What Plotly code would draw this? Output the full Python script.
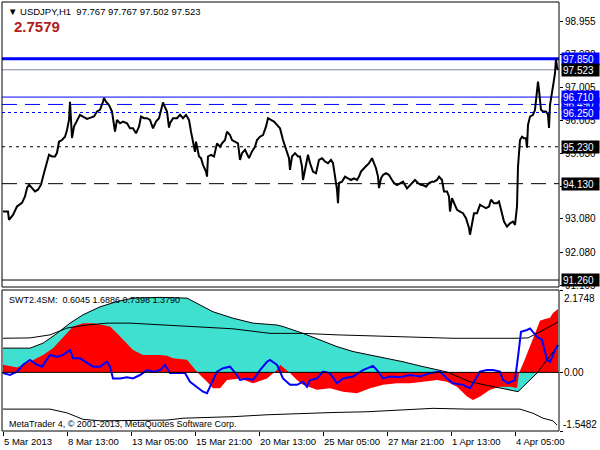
import plotly.graph_objects as go

# ---------------- data ----------------
header_text = "USDJPY,H1\u00a0\u00a097.767 97.767 97.502 97.523"
big_value_text = "2.7579"
indicator_text = "SWT2.4SM:\u00a0\u00a00.6045 1.6886 0.7398 1.3790"
copyright_text = "MetaTrader 4, \u00a9 2001-2013, MetaQuotes Software Corp."

price_bar = [0, 5, 6, 10, 14, 19, 22, 24, 26, 29, 32, 35, 38, 41, 44, 46, 49, 52, 54, 56, 59, 62, 64, 66, 67, 68, 69, 71, 74, 77,
             80, 84, 87, 91, 94, 97, 100, 101, 103, 106, 109, 111, 112, 114, 117, 120, 124, 127, 130, 133, 136, 138, 141, 144, 147,
             150, 153, 156, 159, 160, 161, 164, 166, 167, 170, 174, 177, 180, 183, 186, 188, 190, 191, 192, 193, 196, 198, 200, 203,
             204, 205, 208, 211, 214, 217, 219, 222, 224, 227, 229, 232, 235, 237, 239, 242, 244, 246, 249, 252, 254, 257, 260, 263,
             265, 268, 271, 274, 277, 280, 282, 284, 286, 287, 289, 292, 295, 297, 299, 300, 302, 305, 307, 310, 313, 316, 319, 322,
             325, 328, 330, 332, 334, 335, 336, 339, 342, 345, 348, 351, 354, 356, 358, 361, 363, 366, 369, 371, 373, 375, 376, 378,
             380, 383, 386, 389, 391, 394, 397, 400, 404, 407, 410, 412, 415, 418, 420, 423, 426, 429, 431, 434, 436, 439, 441, 444,
             446, 447, 449, 451, 454, 457, 460, 463, 466, 467, 469, 471, 474, 477, 480, 483, 486, 488, 491, 494, 496, 499, 501, 504,
             507, 510, 512, 514, 515, 517, 519, 521, 523, 524, 525, 527, 530, 532, 534, 535, 536, 538, 540, 543, 545, 546, 547, 549,
             551, 552, 553, 554, 555]
price_close = [93.30, 93.30, 93.05, 93.20, 93.45, 93.56, 93.75, 94.00, 94.10, 94.00, 93.90, 93.95, 94.10, 94.45, 94.75, 94.99, 94.94,
               94.94, 95.05, 95.38, 95.43, 95.53, 95.73, 96.03, 96.57, 96.13, 95.49, 95.83, 96.03, 96.18,
               96.13, 96.06, 96.09, 96.13, 96.28, 96.33, 96.57, 96.68, 96.57, 96.47, 96.28, 95.93, 95.68, 96.03, 95.93, 95.98, 95.93,
               95.78, 95.78, 95.63, 95.83, 96.13, 96.08, 96.08, 96.03,
               95.78, 95.98, 96.08, 96.42, 96.55, 96.47, 96.28, 95.80, 95.93, 96.08, 96.08, 96.18, 96.08, 96.18, 96.03, 95.68, 95.43,
               95.23, 95.08, 95.38, 94.94, 94.89, 94.69, 94.49,
               94.34, 94.94, 94.99, 94.94, 95.33, 95.23, 95.33, 95.43, 95.68, 95.58, 95.43, 95.38, 95.33, 94.84, 95.04, 95.14, 94.99,
               94.89, 95.09, 95.23, 95.43, 95.53, 95.58, 95.83,
               96.08, 96.03, 95.98, 95.88, 95.78, 95.43, 95.23, 95.08, 94.89, 94.54, 94.94, 95.04, 94.94, 94.94, 94.64, 94.24, 94.54,
               94.99, 94.74, 94.49, 94.44, 94.84, 94.89,
               94.79, 94.74, 94.84, 94.74, 94.34, 93.95, 93.55, 94.15, 94.19, 94.34, 94.29, 94.24, 94.29, 94.24, 94.34, 94.49, 94.59,
               94.64, 94.74, 94.89, 94.74, 94.59, 94.34, 94.00, 94.29,
               94.39, 94.44, 94.39, 94.24, 94.15, 94.09, 94.15, 94.19, 93.99, 94.09, 94.19, 94.24, 94.15, 94.09, 94.09, 94.04, 94.15,
               94.19, 94.19, 94.24, 94.34, 94.24, 93.90, 93.90,
               93.75, 93.30, 93.70, 93.55, 93.35, 93.30, 93.25, 93.10, 92.81, 92.61, 92.95, 93.25, 93.25, 93.50, 93.45, 93.40, 93.45,
               93.65, 93.55, 93.55, 93.60, 93.25, 93.00, 92.85,
               92.95, 93.00, 92.90, 93.45, 94.64, 95.43, 95.53, 95.48, 95.48, 95.20, 95.88, 96.13, 96.18, 96.33, 96.82, 97.17, 96.92,
               96.33, 96.28, 96.28, 96.18, 95.79, 96.47, 96.92,
               97.22, 97.42, 97.85, 97.60, 97.52]

level_prices = [96.490, 97.850, 97.523, 96.710, 96.250, 95.230, 94.130, 91.260]
price_ticks = [98.955, 97.980, 97.005, 96.005, 95.030, 94.055, 93.080, 92.080, 91.105]

time_label_bars = [0, 64, 128, 192, 256, 320, 384, 448, 512]
time_labels = ["5 Mar 2013", "8 Mar 13:00", "13 Mar 05:00", "15 Mar 21:00", "20 Mar 13:00",
               "25 Mar 05:00", "27 Mar 21:00", "1 Apr 13:00", "4 Apr 05:00"]

ind_max, ind_min = 2.1748, -1.5482

cyan_bar = [0, 27, 40, 54, 67, 80, 97, 114, 130, 157, 184, 197, 210, 230, 250, 274, 280, 300, 317, 334, 350, 367, 384, 400,
            417, 434, 444, 467, 500, 515, 534, 555]
cyan_val = [0.64, 0.64, 0.77, 1.03, 1.30, 1.52, 1.73, 1.87, 1.96, 1.98, 1.96, 1.78, 1.60, 1.43, 1.30, 1.25, 1.21, 1.03, 0.86,
            0.68, 0.55, 0.46, 0.37, 0.28, 0.17, 0.06, 0.01, -0.25, -0.42, -0.51, -0.02, 0.72]

red_bar = [0, 14, 27, 40, 50, 60, 70, 80, 90, 100, 107, 114, 120, 130, 140, 157, 164, 170, 184, 190, 195, 204, 210, 217, 224,
           237, 250, 264, 274, 277, 287, 294, 300, 314, 327, 340, 354, 367, 380, 394, 407, 420, 434, 444, 454, 464, 470, 477,
           487, 497, 507, 514, 516, 522, 527, 532, 537, 542, 547, 550, 555]
red_val = [0.20, 0.13, 0.28, 0.46, 0.64, 0.94, 1.21, 1.30, 1.30, 1.25, 1.21, 1.03, 0.86, 0.59, 0.46, 0.46, 0.44, 0.37, 0.33,
           0.15, -0.02, -0.25, -0.42, -0.42, -0.20, -0.16, -0.29, -0.16, 0.06, 0.20, -0.02, -0.20, -0.33, -0.46, -0.42, -0.51,
           -0.55, -0.42, -0.33, -0.29, -0.29, -0.25, -0.20, -0.25, -0.38, -0.64, -0.73, -0.64, -0.46, -0.38, -0.38, -0.41,
           -0.02, 0.35, 0.70, 1.04, 1.36, 1.41, 1.44, 1.57, 1.67]

blue_bar = [0, 7, 14, 20, 27, 34, 39, 44, 47, 54, 60, 67, 70, 77, 84, 90, 97, 104, 107, 110, 117, 124, 130, 137, 144, 150, 157,
            162, 167, 177, 182, 187, 194, 200, 204, 207, 214, 220, 227, 234, 237, 244, 250, 257, 264, 267, 274, 280, 287, 294,
            300, 304, 307, 314, 320, 327, 334, 340, 350, 360, 370, 374, 380, 387, 397, 407, 417, 427, 437, 444, 450, 460, 467,
            472, 477, 484, 490, 497, 500, 505, 512, 515, 518, 524, 527, 534, 539, 544, 547, 552, 555]
blue_val = [-0.02, -0.07, 0.02, 0.20, 0.33, 0.20, 0.15, 0.33, 0.46, 0.41, 0.46, 0.59, 0.37, 0.37, 0.24, 0.15, 0.15, 0.28, 0.15,
            -0.16, -0.16, -0.13, -0.16, -0.07, 0.06, 0.02, 0.06, 0.20, -0.02, -0.02, -0.02, -0.25, -0.38, -0.51, -0.55, -0.38,
            0.02, 0.11, 0.15, -0.07, -0.20, -0.16, -0.20, 0.06, 0.28, 0.33, 0.20, -0.16, -0.33, -0.33, -0.25, -0.38, -0.20,
            -0.16, 0.02, -0.02, -0.29, -0.16, -0.11, 0.06, 0.17, 0.06, -0.16, -0.11, -0.13, -0.07, -0.11, -0.02, 0.02, -0.16,
            -0.29, -0.33, -0.42, -0.20, 0.02, 0.06, 0.06, 0.02, -0.20, -0.29, -0.20, 0.41, 1.07, 1.12, 1.16, 0.94, 0.86, 0.33,
            0.28, 0.59, 0.72]

signal_bar = [0, 27, 47, 64, 84, 104, 127, 164, 197, 230, 267, 300, 334, 400, 450, 514, 525, 537, 555]
signal_val = [0.90, 0.91, 0.99, 1.17, 1.25, 1.30, 1.30, 1.25, 1.21, 1.15, 1.03, 1.03, 0.99, 0.94, 0.90, 0.90, 0.91, 1.07, 1.33]

lower_bar = [0, 47, 64, 80, 97, 130, 164, 180, 230, 264, 297, 330, 364, 397, 430, 464, 497, 517, 530, 540, 550, 554]
lower_val = [-0.97, -0.97, -1.07, -1.24, -1.28, -1.28, -1.26, -1.21, -1.17, -1.12, -1.08, -1.06, -1.04, -0.99, -0.95, -0.97,
             -0.97, -0.97, -1.08, -1.21, -1.28, -1.39]

# ---------------- styles ----------------
FONT = "Liberation Sans, Arial, DejaVu Sans, sans-serif"
BLUE = "#0000FF"
level_styles = [
    dict(color=BLUE, width=1, dash="15px,8px", box=BLUE),      # 96.490
    dict(color=BLUE, width=3, dash="solid", box=BLUE),         # 97.850
    dict(color="#7b8896", width=1, dash="solid", box="black"),  # 97.523
    dict(color=BLUE, width=1, dash="solid", box=BLUE),         # 96.710
    dict(color=BLUE, width=1, dash="3px,3px", box=BLUE),       # 96.250
    dict(color="black", width=1, dash="3px,4px", box="black"),  # 95.230
    dict(color="black", width=1, dash="15px,8px", box="black"), # 94.130
    dict(color="black", width=1, dash="solid", box="black"),    # 91.260
]

# pixel layout
PT, PB = 2, 431           # plot area top / bottom in px
MAIN_BOTTOM, IND_TOP = 287, 290
ph = PB - PT
main_dom = [(PB - MAIN_BOTTOM) / ph, 1.0]
ind_dom = [0.0, (PB - IND_TOP) / ph]

fig = go.Figure()

fig.add_trace(go.Scatter(x=price_bar, y=price_close, mode="lines", line=dict(color="black", width=2),
                         xaxis="x", yaxis="y", hoverinfo="skip"))

fig.add_trace(go.Scatter(x=cyan_bar, y=cyan_val, mode="lines", fill="tozeroy", fillcolor="#40E0D0",
                         line=dict(width=0, color="#40E0D0"), xaxis="x2", yaxis="y2", hoverinfo="skip"))
fig.add_trace(go.Scatter(x=red_bar, y=red_val, mode="lines", fill="tozeroy", fillcolor="#FF0000",
                         line=dict(width=0, color="#FF0000"), xaxis="x2", yaxis="y2", hoverinfo="skip"))
fig.add_trace(go.Scatter(x=cyan_bar, y=cyan_val, mode="lines", line=dict(color="black", width=1),
                         xaxis="x2", yaxis="y2", hoverinfo="skip"))
fig.add_trace(go.Scatter(x=signal_bar, y=signal_val, mode="lines", line=dict(color="black", width=1),
                         xaxis="x2", yaxis="y2", hoverinfo="skip"))
fig.add_trace(go.Scatter(x=lower_bar, y=lower_val, mode="lines", line=dict(color="black", width=1),
                         xaxis="x2", yaxis="y2", hoverinfo="skip"))
fig.add_trace(go.Scatter(x=blue_bar, y=blue_val, mode="lines", line=dict(color=BLUE, width=2),
                         xaxis="x2", yaxis="y2", hoverinfo="skip"))

shapes = []
for p, st in zip(level_prices, level_styles):
    shapes.append(dict(type="line", xref="paper", x0=0, x1=1, yref="y", y0=p, y1=p, layer="below",
                       line=dict(color=st["color"], width=st["width"], dash=st["dash"])))
# zero line of indicator
shapes.append(dict(type="line", xref="paper", x0=0, x1=1, yref="y2", y0=0, y1=0, layer="above",
                   line=dict(color="black", width=1)))
# panel frames
shapes.append(dict(type="rect", xref="paper", yref="paper", x0=0, x1=1, y0=main_dom[0], y1=1,
                   line=dict(color="black", width=1), layer="above"))
shapes.append(dict(type="rect", xref="paper", yref="paper", x0=0, x1=1, y0=0, y1=ind_dom[1],
                   line=dict(color="black", width=1), layer="above"))

ann = []
ann.append(dict(x=0, y=1, xref="paper", yref="paper", xanchor="left", yanchor="top", xshift=4, yshift=-2,
                text="\u25bc " + header_text, showarrow=False, font=dict(family=FONT, size=9.5, color="black")))
ann.append(dict(x=0, y=1, xref="paper", yref="paper", xanchor="left", yanchor="top", xshift=10, yshift=-14,
                text="<b>" + big_value_text + "</b>", showarrow=False, font=dict(family=FONT, size=15, color="#b0201e")))
ann.append(dict(x=0, y=ind_dom[1], xref="paper", yref="paper", xanchor="left", yanchor="top", xshift=5, yshift=-3,
                text=indicator_text, showarrow=False, font=dict(family=FONT, size=9, color="black")))
ann.append(dict(x=0, y=0, xref="paper", yref="paper", xanchor="left", yanchor="bottom", xshift=5, yshift=0,
                text=copyright_text, showarrow=False, font=dict(family=FONT, size=9, color="black")))
for b, t in zip(time_label_bars, time_labels):
    ann.append(dict(x=b, y=0, xref="x2", yref="paper", xanchor="left", yanchor="top", xshift=-1, yshift=-3,
                    text=t, showarrow=False, font=dict(family=FONT, size=9.5, color="black")))
# indicator scale labels
ann.append(dict(x=1, y=ind_max, xref="paper", yref="y2", xanchor="left", yanchor="top", xshift=3, yshift=-1,
                text=f"{ind_max:.4f}", showarrow=False, font=dict(family=FONT, size=10, color="black")))
ann.append(dict(x=1, y=0, xref="paper", yref="y2", xanchor="left", yanchor="middle", xshift=3,
                text="0.00", showarrow=False, font=dict(family=FONT, size=10, color="black")))
ann.append(dict(x=1, y=ind_min, xref="paper", yref="y2", xanchor="left", yanchor="bottom", xshift=2, yshift=-1,
                text=f"{ind_min:.4f}", showarrow=False, font=dict(family=FONT, size=10, color="black")))
# level price boxes
for p, st in zip(level_prices, level_styles):
    ann.append(dict(x=1, y=p, xref="paper", yref="y", xanchor="left", yanchor="middle", xshift=2,
                    text=f"{p:.3f}", showarrow=False, bgcolor=st["box"], borderpad=1, width=35, height=10,
                    align="left", font=dict(family=FONT, size=10, color="white")))

fig.update_layout(
    width=600, height=450,
    margin=dict(l=2, r=41, t=PT, b=450 - PB),
    paper_bgcolor="white", plot_bgcolor="white", showlegend=False,
    xaxis=dict(domain=[0, 1], range=[-1, 556], anchor="y", showticklabels=False, showgrid=False,
               zeroline=False, ticks=""),
    yaxis=dict(domain=main_dom, range=[91.052, 99.542], side="right", anchor="x",
               tickvals=price_ticks, ticktext=[f"{v:.3f}" for v in price_ticks],
               ticks="outside", ticklen=3, tickcolor="black", showgrid=False, zeroline=False,
               tickfont=dict(family=FONT, size=10, color="black")),
    xaxis2=dict(domain=[0, 1], range=[-1, 556], anchor="y2", tickvals=time_label_bars, ticks="outside",
                ticklen=4, tickcolor="black", showticklabels=False, showgrid=False, zeroline=False),
    yaxis2=dict(domain=ind_dom, range=[ind_min, ind_max], side="right", anchor="x2",
                tickvals=[ind_max, 0, ind_min], ticks="outside", ticklen=3, tickcolor="black",
                showticklabels=False, showgrid=False, zeroline=False),
    shapes=shapes, annotations=ann,
)

fig.write_html("out.html", config={"displayModeBar": False},
               post_script="document.body.style.margin='0';document.body.style.padding='0';")
